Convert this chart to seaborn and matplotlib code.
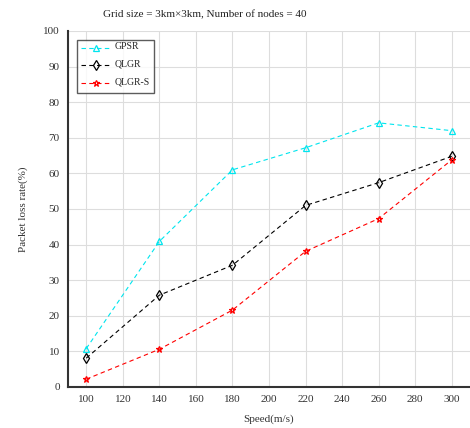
import pandas as pd
import seaborn as sns
import matplotlib
matplotlib.use('Agg')
import matplotlib.pyplot as plt

# Données
speed = [100, 140, 180, 220, 260, 300]
gpsr = [10.8, 40.9, 61.0, 67.2, 74.2, 72.0]
qlgr = [8.1, 25.8, 34.2, 51.0, 57.4, 64.8]
qlgr_s = [2.2, 10.6, 21.6, 38.1, 47.3, 63.8]
protocols = ['GPSR', 'QLGR', 'QLGR-S']

df = pd.DataFrame({
    'speed': speed * 3,
    'loss': gpsr + qlgr + qlgr_s,
    'protocol': [p for p in protocols for _ in speed],
})

sns.set_style('whitegrid')
plt.rcParams['font.family'] = ['Liberation Serif', 'DejaVu Serif']

fig = plt.figure(figsize=(4.7, 4.28), dpi=100)
ax = fig.add_axes([68 / 470, 1 - 387 / 428, 1 - 68 / 470, (387 - 31) / 428])

colors = {'GPSR': '#00e5ee', 'QLGR': 'black', 'QLGR-S': 'red'}
markers = {'GPSR': '^', 'QLGR': 'd', 'QLGR-S': '*'}
for p in protocols:
    sub = df[df['protocol'] == p]
    sns.lineplot(data=sub, x='speed', y='loss', ax=ax, label=p,
                 color=colors[p], marker=markers[p], markersize=5,
                 markerfacecolor='none', markeredgecolor=colors[p],
                 markeredgewidth=0.9, linestyle=(0, (4, 3)), linewidth=0.8)

ax.set_xlim(90, 310)
ax.set_ylim(0, 100)
ax.set_xticks(range(100, 301, 20))
ax.set_yticks(range(0, 101, 10))
ax.grid(True, color='#dddddd', linewidth=0.8)
ax.tick_params(direction='in', length=4, width=1.2, color='#333333',
               labelsize=8, labelcolor='#333333', pad=6)
for s in ['top', 'right']:
    ax.spines[s].set_visible(False)
for s in ['left', 'bottom']:
    ax.spines[s].set_color('#333333')
    ax.spines[s].set_linewidth(1.5)

ax.set_xlabel('Speed(m/s)', fontsize=8, color='#333333', labelpad=7)
ax.set_ylabel('Packet loss rate(%)', fontsize=8, color='#333333', labelpad=11)
fig.text(205 / 470, 1 - 15 / 428, 'Grid size = 3km\u00d73km, Number of nodes = 40',
         ha='center', va='center', fontsize=8, color='#222222')

leg = ax.legend(loc='upper left', bbox_to_anchor=(0.022, 0.976), borderaxespad=0,
                fontsize=7, frameon=True, fancybox=False, edgecolor='#333333',
                handlelength=3.0, handletextpad=0.4, labelspacing=0.9,
                borderpad=0.45)
leg.get_frame().set_linewidth(1.0)
for t in leg.get_texts():
    t.set_va('bottom')

fig.savefig('out.png', dpi=100)
